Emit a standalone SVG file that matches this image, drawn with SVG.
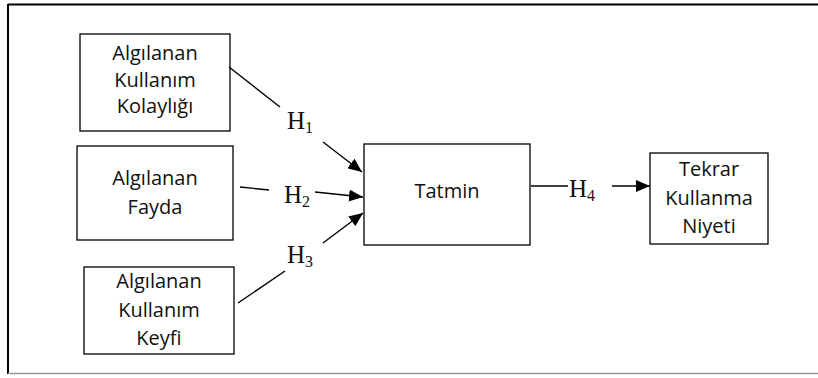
<svg xmlns="http://www.w3.org/2000/svg" width="818" height="378" viewBox="0 0 818 378">
<style>
.box{fill:#fff;stroke:#000;stroke-width:1.3}
.t{font-family:"Open Sans","Noto Sans",sans-serif;font-size:20px;fill:#111;text-anchor:middle}
.h{font-family:"Liberation Serif","Times New Roman",serif;font-size:25px;fill:#111}
.sub{font-size:16px}
.c{stroke:#000;stroke-width:1.4;fill:none}
</style>
<defs>
<marker id="ah" viewBox="0 0 14 12" refX="14" refY="6" markerWidth="14" markerHeight="12" markerUnits="userSpaceOnUse" orient="auto">
<path d="M0,0 L14,6 L0,12 Z" fill="#000"/>
</marker>
</defs>
<rect x="0" y="0" width="818" height="378" fill="#fff"/>
<g id="frame">
<line x1="8" y1="4.5" x2="818" y2="4.5" stroke="#000" stroke-width="2"/>
<line x1="8" y1="4" x2="8" y2="374" stroke="#000" stroke-width="2"/>
<line x1="8" y1="373.5" x2="818" y2="373.5" stroke="#999" stroke-width="1.5"/>
</g>
<g id="n1">
<rect class="box" x="80" y="34" width="150" height="97"/>
<text class="t" x="155" y="60">Algılanan</text>
<text class="t" x="155" y="87">Kullanım</text>
<text class="t" x="155" y="113">Kolaylığı</text>
</g>
<g id="n2">
<rect class="box" x="77" y="146" width="156" height="94"/>
<text class="t" x="155" y="185">Algılanan</text>
<text class="t" x="155" y="214">Fayda</text>
</g>
<g id="n3">
<rect class="box" x="84" y="267" width="150" height="87"/>
<text class="t" x="159" y="288">Algılanan</text>
<text class="t" x="159" y="317">Kullanım</text>
<text class="t" x="159" y="345">Keyfi</text>
</g>
<g id="n4">
<rect class="box" x="364" y="144" width="166" height="101"/>
<text class="t" x="447" y="198">Tatmin</text>
</g>
<g id="n5">
<rect class="box" x="650" y="153" width="118" height="91"/>
<text class="t" x="709" y="176">Tekrar</text>
<text class="t" x="709" y="205">Kullanma</text>
<text class="t" x="709" y="233">Niyeti</text>
</g>
<g id="connectors">
<line class="c" x1="229" y1="67" x2="280" y2="107"/>
<line class="c" x1="323" y1="142" x2="362" y2="172" marker-end="url(#ah)"/>
<line class="c" x1="240" y1="187" x2="269" y2="190"/>
<line class="c" x1="315" y1="192" x2="363" y2="197" marker-end="url(#ah)"/>
<line class="c" x1="238" y1="303" x2="285" y2="271"/>
<line class="c" x1="323" y1="243" x2="363" y2="213" marker-end="url(#ah)"/>
<line class="c" x1="531" y1="186" x2="568" y2="186"/>
<line class="c" x1="612" y1="186" x2="650" y2="186" marker-end="url(#ah)"/>
</g>
<g id="labels">
<text class="h" x="287" y="129">H<tspan class="sub" dy="4">1</tspan></text>
<text class="h" x="284" y="203">H<tspan class="sub" dy="4">2</tspan></text>
<text class="h" x="287" y="263">H<tspan class="sub" dy="4">3</tspan></text>
<text class="h" x="569" y="197">H<tspan class="sub" dy="4">4</tspan></text>
</g>
</svg>
